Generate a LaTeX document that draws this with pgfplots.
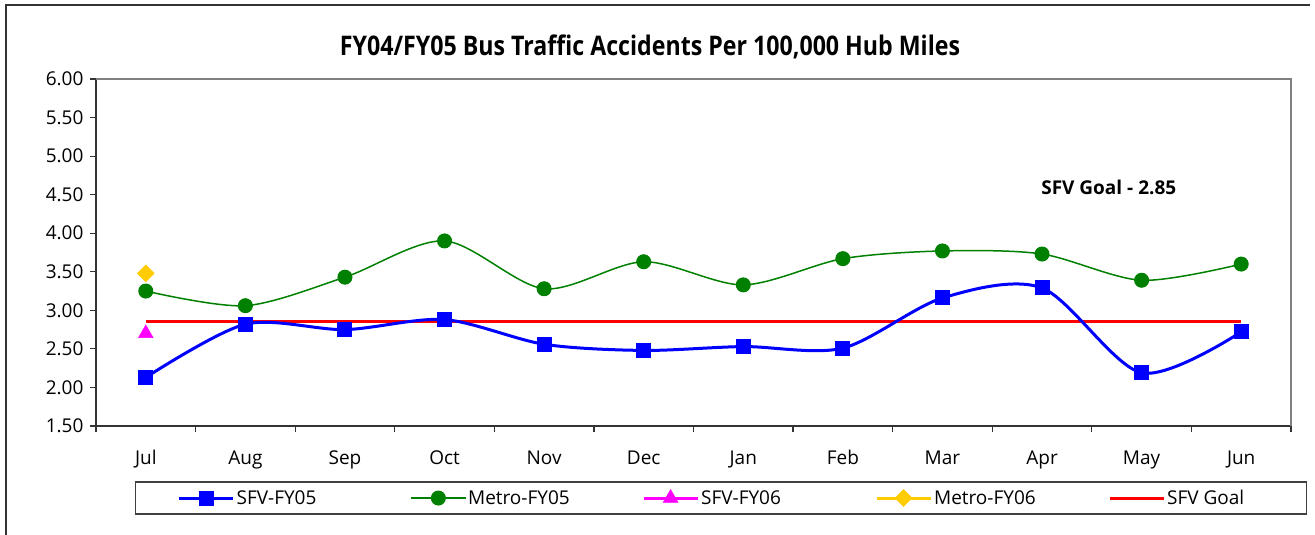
\documentclass[border=0pt]{standalone}
\usepackage{fontspec}
\setmainfont{Open Sans}
\usepackage{graphicx}
\usepackage{pgfplots}
\pgfplotsset{compat=1.18}
\definecolor{sfvblue}{RGB}{0,0,255}
\definecolor{metrogreen}{RGB}{0,128,0}
\definecolor{sfvpink}{RGB}{255,0,255}
\definecolor{metrogold}{RGB}{255,204,0}
\definecolor{goalred}{RGB}{255,0,0}
\begin{document}
\begin{tikzpicture}[x=1pt,y=1pt]
\path[use as bounding box] (0,0) rectangle (1315,535);
% chart area frame
\draw[black!80, line width=1.5pt] (6,0) -- (6,530) -- (1310,530);
% title
\node at (650,488) {\resizebox{620pt}{\height}{\fontsize{27}{32}\selectfont\bfseries FY04/FY05 Bus Traffic Accidents Per 100,000 Hub Miles}};
\begin{axis}[
    at={(96pt,109pt)}, anchor=south west,
    scale only axis,
    width=1195pt, height=347pt,
    xmin=-0.5, xmax=11.5,
    ymin=1.5, ymax=6,
    axis x line*=bottom, axis y line*=left,
    axis line style={-, black!80, line width=1.5pt},
    tick align=outside,
    major tick length=6pt,
    tick style={black!80, line width=1.2pt},
    xtick={-0.5,0.5,...,11.5},
    x tick label as interval,
    xticklabels={Jul,Aug,Sep,Oct,Nov,Dec,Jan,Feb,Mar,Apr,May,Jun},
    ytick={1.5,2,...,6},
    ticklabel style={font=\fontsize{19}{22}\selectfont},
    xticklabel style={yshift=-15pt},
    yticklabel style={xshift=-3pt, /pgf/number format/.cd, fixed, fixed zerofill, precision=2, assume math mode=true},
    legend image code/.code={\draw[mark repeat=2,mark phase=2] plot coordinates {(0pt,0pt) (27pt,0pt) (54pt,0pt)};},
    legend columns=5,
    legend style={at={(0.03264,-0.1599)}, anchor=north west,
        draw=black!75, line width=1.2pt,
        inner xsep=42pt, inner ysep=6pt,
        font=\fontsize{19}{22}\selectfont,
        /tikz/every even column/.append style={column sep=22pt}},
    legend cell align=left,
    clip=false,
]
% plot area border (top and right)
\draw[gray, line width=2pt] (rel axis cs:0,1) -- (rel axis cs:1,1) -- (rel axis cs:1,0);

% SFV goal line (drawn first, behind the series)
\addplot[goalred, line width=3pt, forget plot] coordinates {(0,2.85) (11,2.85)};

\addplot[sfvblue, line width=3pt, smooth, mark=square*, mark size=7pt,
    mark options={solid, line width=1pt}] coordinates {
    (0,2.13) (1,2.82) (2,2.75) (3,2.88) (4,2.56) (5,2.48)
    (6,2.53) (7,2.51) (8,3.16) (9,3.29) (10,2.19) (11,2.72)
};
\addlegendentry{\makebox[150pt][l]{SFV-FY05}}

\addplot[metrogreen, line width=1.5pt, smooth, mark=*, mark size=7pt,
    mark options={solid, line width=1pt}] coordinates {
    (0,3.25) (1,3.06) (2,3.43) (3,3.90) (4,3.28) (5,3.63)
    (6,3.33) (7,3.67) (8,3.77) (9,3.73) (10,3.39) (11,3.60)
};
\addlegendentry{\makebox[150pt][l]{Metro-FY05}}

\addplot[sfvpink, line width=3pt, mark=triangle*, mark size=8.5pt,
    mark options={solid, line width=0.5pt}] coordinates {(0,2.70)};
\addlegendentry{\makebox[150pt][l]{SFV-FY06}}

\addplot[metrogold, line width=3pt, mark=square*, mark size=6pt,
    mark options={solid, rotate=45, line width=0.5pt}] coordinates {(0,3.48)};
\addlegendentry{\makebox[150pt][l]{Metro-FY06}}

\addlegendimage{goalred, line width=3pt}
\addlegendentry{\makebox[95pt][l]{SFV Goal}}

\node[font=\fontsize{19}{22}\selectfont\bfseries] at (axis cs:9.67,4.59) {SFV Goal - 2.85};
\end{axis}
\end{tikzpicture}
\end{document}
